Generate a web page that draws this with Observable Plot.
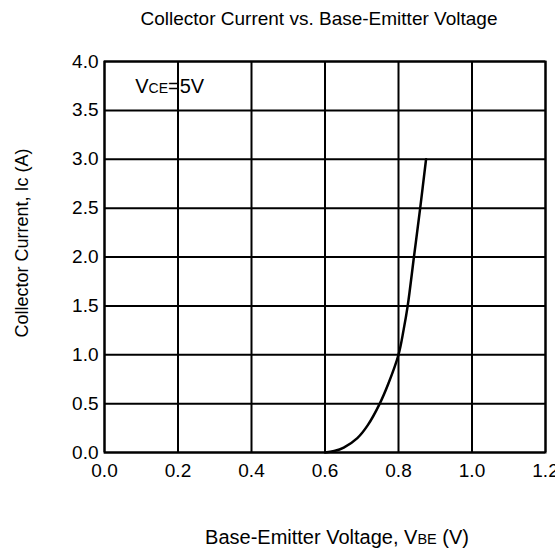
<!DOCTYPE html>
<html>
<head>
<meta charset="utf-8">
<script src="https://cdn.jsdelivr.net/npm/d3@7"></script>
<script src="https://cdn.jsdelivr.net/npm/@observablehq/plot@0.6"></script>
<style>
  html, body { margin: 0; padding: 0; background: #fff; }
  svg { font-family: "Liberation Sans", Arial, sans-serif; }
</style>
</head>
<body>
<div id="chart"></div>
<script>
// Data
const vbe = [0.600, 0.625, 0.651, 0.688, 0.716, 0.749, 0.772, 0.800, 0.814, 0.825, 0.842, 0.859, 0.875];
const ic  = [0.000, 0.015, 0.050, 0.147, 0.277, 0.500, 0.700, 1.000, 1.257, 1.500, 2.000, 2.500, 3.000];
const xTicks = [0.0, 0.2, 0.4, 0.6, 0.8, 1.0, 1.2];
const yTicks = [0.0, 0.5, 1.0, 1.5, 2.0, 2.5, 3.0, 3.5, 4.0];
const titleText = "Collector Current vs. Base-Emitter Voltage";
const yLabelText = "Collector Current, Ic (A)";
const xLabelParts = [["Base-Emitter Voltage, V", 20], ["BE", 14.5], [" (V)", 20]];
const annotParts = [["V", 20], ["CE", 14], ["=5V", 20]];
const annotAt = [0.085, 3.75];

const data = vbe.map((v, i) => ({vbe: v, ic: ic[i]}));

const chart = Plot.plot({
  width: 555,
  height: 551,
  marginTop: 61,
  marginBottom: 99,
  marginLeft: 104,
  marginRight: 10,
  style: {fontFamily: '"Liberation Sans", Arial, sans-serif', fontSize: "19px", background: "#fff", color: "#000"},
  x: {domain: [0, 1.2], ticks: xTicks},
  y: {domain: [0, 4], ticks: yTicks},
  marks: [
    Plot.gridX(xTicks, {stroke: "#000", strokeOpacity: 1, strokeWidth: 2}),
    Plot.gridY(yTicks, {stroke: "#000", strokeOpacity: 1, strokeWidth: 2}),
    Plot.frame({stroke: "#000", strokeWidth: 2}),
    Plot.axisX(xTicks, {tickSize: 0, tickPadding: 11, tickFormat: d3.format(".1f"), label: null}),
    Plot.axisY(yTicks, {tickSize: 0, tickPadding: 6, tickFormat: d3.format(".1f"), label: null}),
    Plot.line(data, {x: "vbe", y: "ic", curve: "catmull-rom", stroke: "#000", strokeWidth: 2.5})
  ]
});

document.getElementById("chart").appendChild(chart);

const svg = d3.select(chart);
const sx = chart.scale("x"), sy = chart.scale("y");

// Title
svg.append("text")
  .attr("x", 319).attr("y", 25)
  .attr("text-anchor", "middle")
  .attr("font-size", 19).attr("fill", "#000")
  .text(titleText);

// Y label
svg.append("text")
  .attr("transform", "translate(28,243) rotate(-90)")
  .attr("text-anchor", "middle")
  .attr("font-size", 18).attr("fill", "#000")
  .text(yLabelText);

// X label with smaller letters for the subscript
const xl = svg.append("text")
  .attr("x", 337).attr("y", 544)
  .attr("text-anchor", "middle").attr("fill", "#000");
xLabelParts.forEach(([t, s]) => xl.append("tspan").attr("font-size", s).text(t));

// Annotation VCE=5V
const an = svg.append("text")
  .attr("x", sx.apply(annotAt[0])).attr("y", sy.apply(annotAt[1]) + 8)
  .attr("text-anchor", "start")
  .attr("fill", "#000");
annotParts.forEach(([t, s]) => an.append("tspan").attr("font-size", s).text(t));
</script>
</body>
</html>
